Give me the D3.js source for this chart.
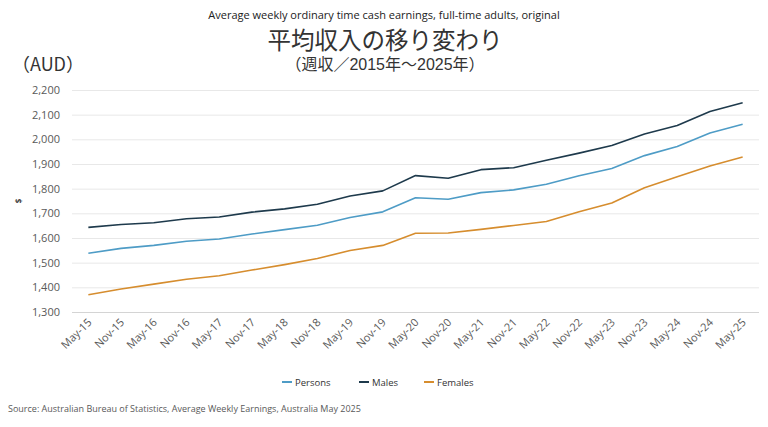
<!DOCTYPE html>
<html>
<head>
<meta charset="utf-8">
<script src="https://cdn.jsdelivr.net/npm/d3@7"></script>
<style>
  body { margin: 0; background: #fff; }
  svg { display: block; font-family: "Open Sans", "Noto Sans", sans-serif; }
  .cjk { font-family: "Noto Sans CJK JP", sans-serif; }
  .cjk-tight { font-family: "Liberation Sans", "Noto Sans CJK JP", sans-serif; }
</style>
</head>
<body>
<svg id="chart" width="768" height="427"></svg>
<script>
'use strict';

const PERIODS = ['May-15', 'Nov-15', 'May-16', 'Nov-16', 'May-17', 'Nov-17', 'May-18',
  'Nov-18', 'May-19', 'Nov-19', 'May-20', 'Nov-20', 'May-21', 'Nov-21', 'May-22',
  'Nov-22', 'May-23', 'Nov-23', 'May-24', 'Nov-24', 'May-25'];
const PERSONS = [1538, 1558, 1570, 1587, 1596, 1616, 1634, 1652, 1683, 1706, 1763,
  1757, 1784, 1795, 1818, 1852, 1882, 1934, 1971, 2026, 2061];
const MALES = [1643, 1655, 1662, 1678, 1685, 1705, 1718, 1737, 1770, 1791, 1853,
  1842, 1877, 1885, 1915, 1944, 1975, 2022, 2056, 2113, 2148];
const FEMALES = [1370, 1393, 1413, 1433, 1447, 1470, 1492, 1517, 1549, 1570, 1619,
  1620, 1635, 1651, 1667, 1706, 1742, 1804, 1848, 1892, 1928];
const Y_TICKS = [1300, 1400, 1500, 1600, 1700, 1800, 1900, 2000, 2100, 2200];

const SERIES = [
  {name: 'Persons', color: '#4e9cc6', values: PERSONS},
  {name: 'Males', color: '#1e3a4c', values: MALES},
  {name: 'Females', color: '#d68d2e', values: FEMALES}
];

const svg = d3.select('#chart');
const PLOT = {left: 72, right: 759, top: 90, bottom: 312};

const x = d3.scaleBand()
  .domain(PERIODS)
  .range([PLOT.left, PLOT.right]);
const y = d3.scaleLinear()
  .domain([1300, 2200])
  .range([PLOT.bottom, PLOT.top]);

/***** TITLES *****/
svg.append('text')
  .attr('x', 384).attr('y', 19)
  .attr('text-anchor', 'middle')
  .attr('font-size', 11)
  .attr('fill', '#222')
  .text('Average weekly ordinary time cash earnings, full-time adults, original');

svg.append('text')
  .attr('class', 'cjk-tight')
  .attr('x', 385).attr('y', 49)
  .attr('text-anchor', 'middle')
  .attr('font-size', 23.5)
  .attr('fill', '#333')
  .text('平均収入の移り変わり');

svg.append('text')
  .attr('class', 'cjk-tight')
  .attr('x', 385).attr('y', 70)
  .attr('text-anchor', 'middle')
  .attr('font-size', 16)
  .attr('fill', '#333')
  .text('（週収／2015年～2025年）');

svg.append('text')
  .attr('class', 'cjk')
  .attr('x', 12).attr('y', 71)
  .attr('font-size', 18)
  .attr('fill', '#333')
  .text('（AUD）');

/***** AXES *****/
const yAxis = svg.append('g')
  .attr('transform', 'translate(' + PLOT.left + ',0)')
  .call(d3.axisLeft(y)
    .tickValues(Y_TICKS)
    .tickSize(-(PLOT.right - PLOT.left))
    .tickPadding(12)
    .tickFormat(d3.format(',')));
yAxis.select('.domain').remove();
yAxis.selectAll('.tick line')
  .attr('stroke', d => d === 1300 ? '#d4d4d4' : '#e8e8e8');
yAxis.selectAll('.tick text')
  .attr('fill', '#595959')
  .attr('font-size', 11)
  .attr('font-family', '"Open Sans", sans-serif');

svg.append('text')
  .attr('transform', 'translate(22,201) rotate(-90)')
  .attr('text-anchor', 'middle')
  .attr('font-size', 8)
  .attr('font-weight', 'bold')
  .attr('fill', '#444')
  .text('$');

const xAxis = svg.append('g')
  .attr('transform', 'translate(0,' + PLOT.bottom + ')')
  .call(d3.axisBottom(x).tickSize(0).tickPadding(0));
xAxis.select('.domain').remove();
xAxis.selectAll('.tick text')
  .attr('fill', '#595959')
  .attr('font-size', 11)
  .attr('font-family', '"Open Sans", sans-serif')
  .attr('text-anchor', 'end')
  .attr('dy', 0)
  .attr('transform', 'translate(4,11) rotate(-45)');

/***** LINES *****/
const line = d3.line()
  .x((d, i) => x(PERIODS[i]) + x.bandwidth() / 2)
  .y(d => y(d));

SERIES.map(s => {
  svg.append('path')
    .attr('fill', 'none')
    .attr('stroke', s.color)
    .attr('stroke-width', 1.6)
    .attr('stroke-linejoin', 'round')
    .attr('d', line(s.values));
});

/***** LEGEND *****/
const LEGEND_X = [282, 359, 424];
const legend = svg.append('g').attr('transform', 'translate(0,382)');
SERIES.map((s, i) => {
  const g = legend.append('g').attr('transform', 'translate(' + LEGEND_X[i] + ',0)');
  g.append('line')
    .attr('x1', 0).attr('x2', 10)
    .attr('stroke', s.color)
    .attr('stroke-width', 2);
  g.append('text')
    .attr('x', 13).attr('y', 3.5)
    .attr('font-size', 9.5)
    .attr('fill', '#333')
    .text(s.name);
});

svg.append('text')
  .attr('x', 8).attr('y', 412)
  .attr('font-size', 9)
  .attr('fill', '#595959')
  .text('Source: Australian Bureau of Statistics, Average Weekly Earnings, Australia May 2025');
</script>
</body>
</html>
